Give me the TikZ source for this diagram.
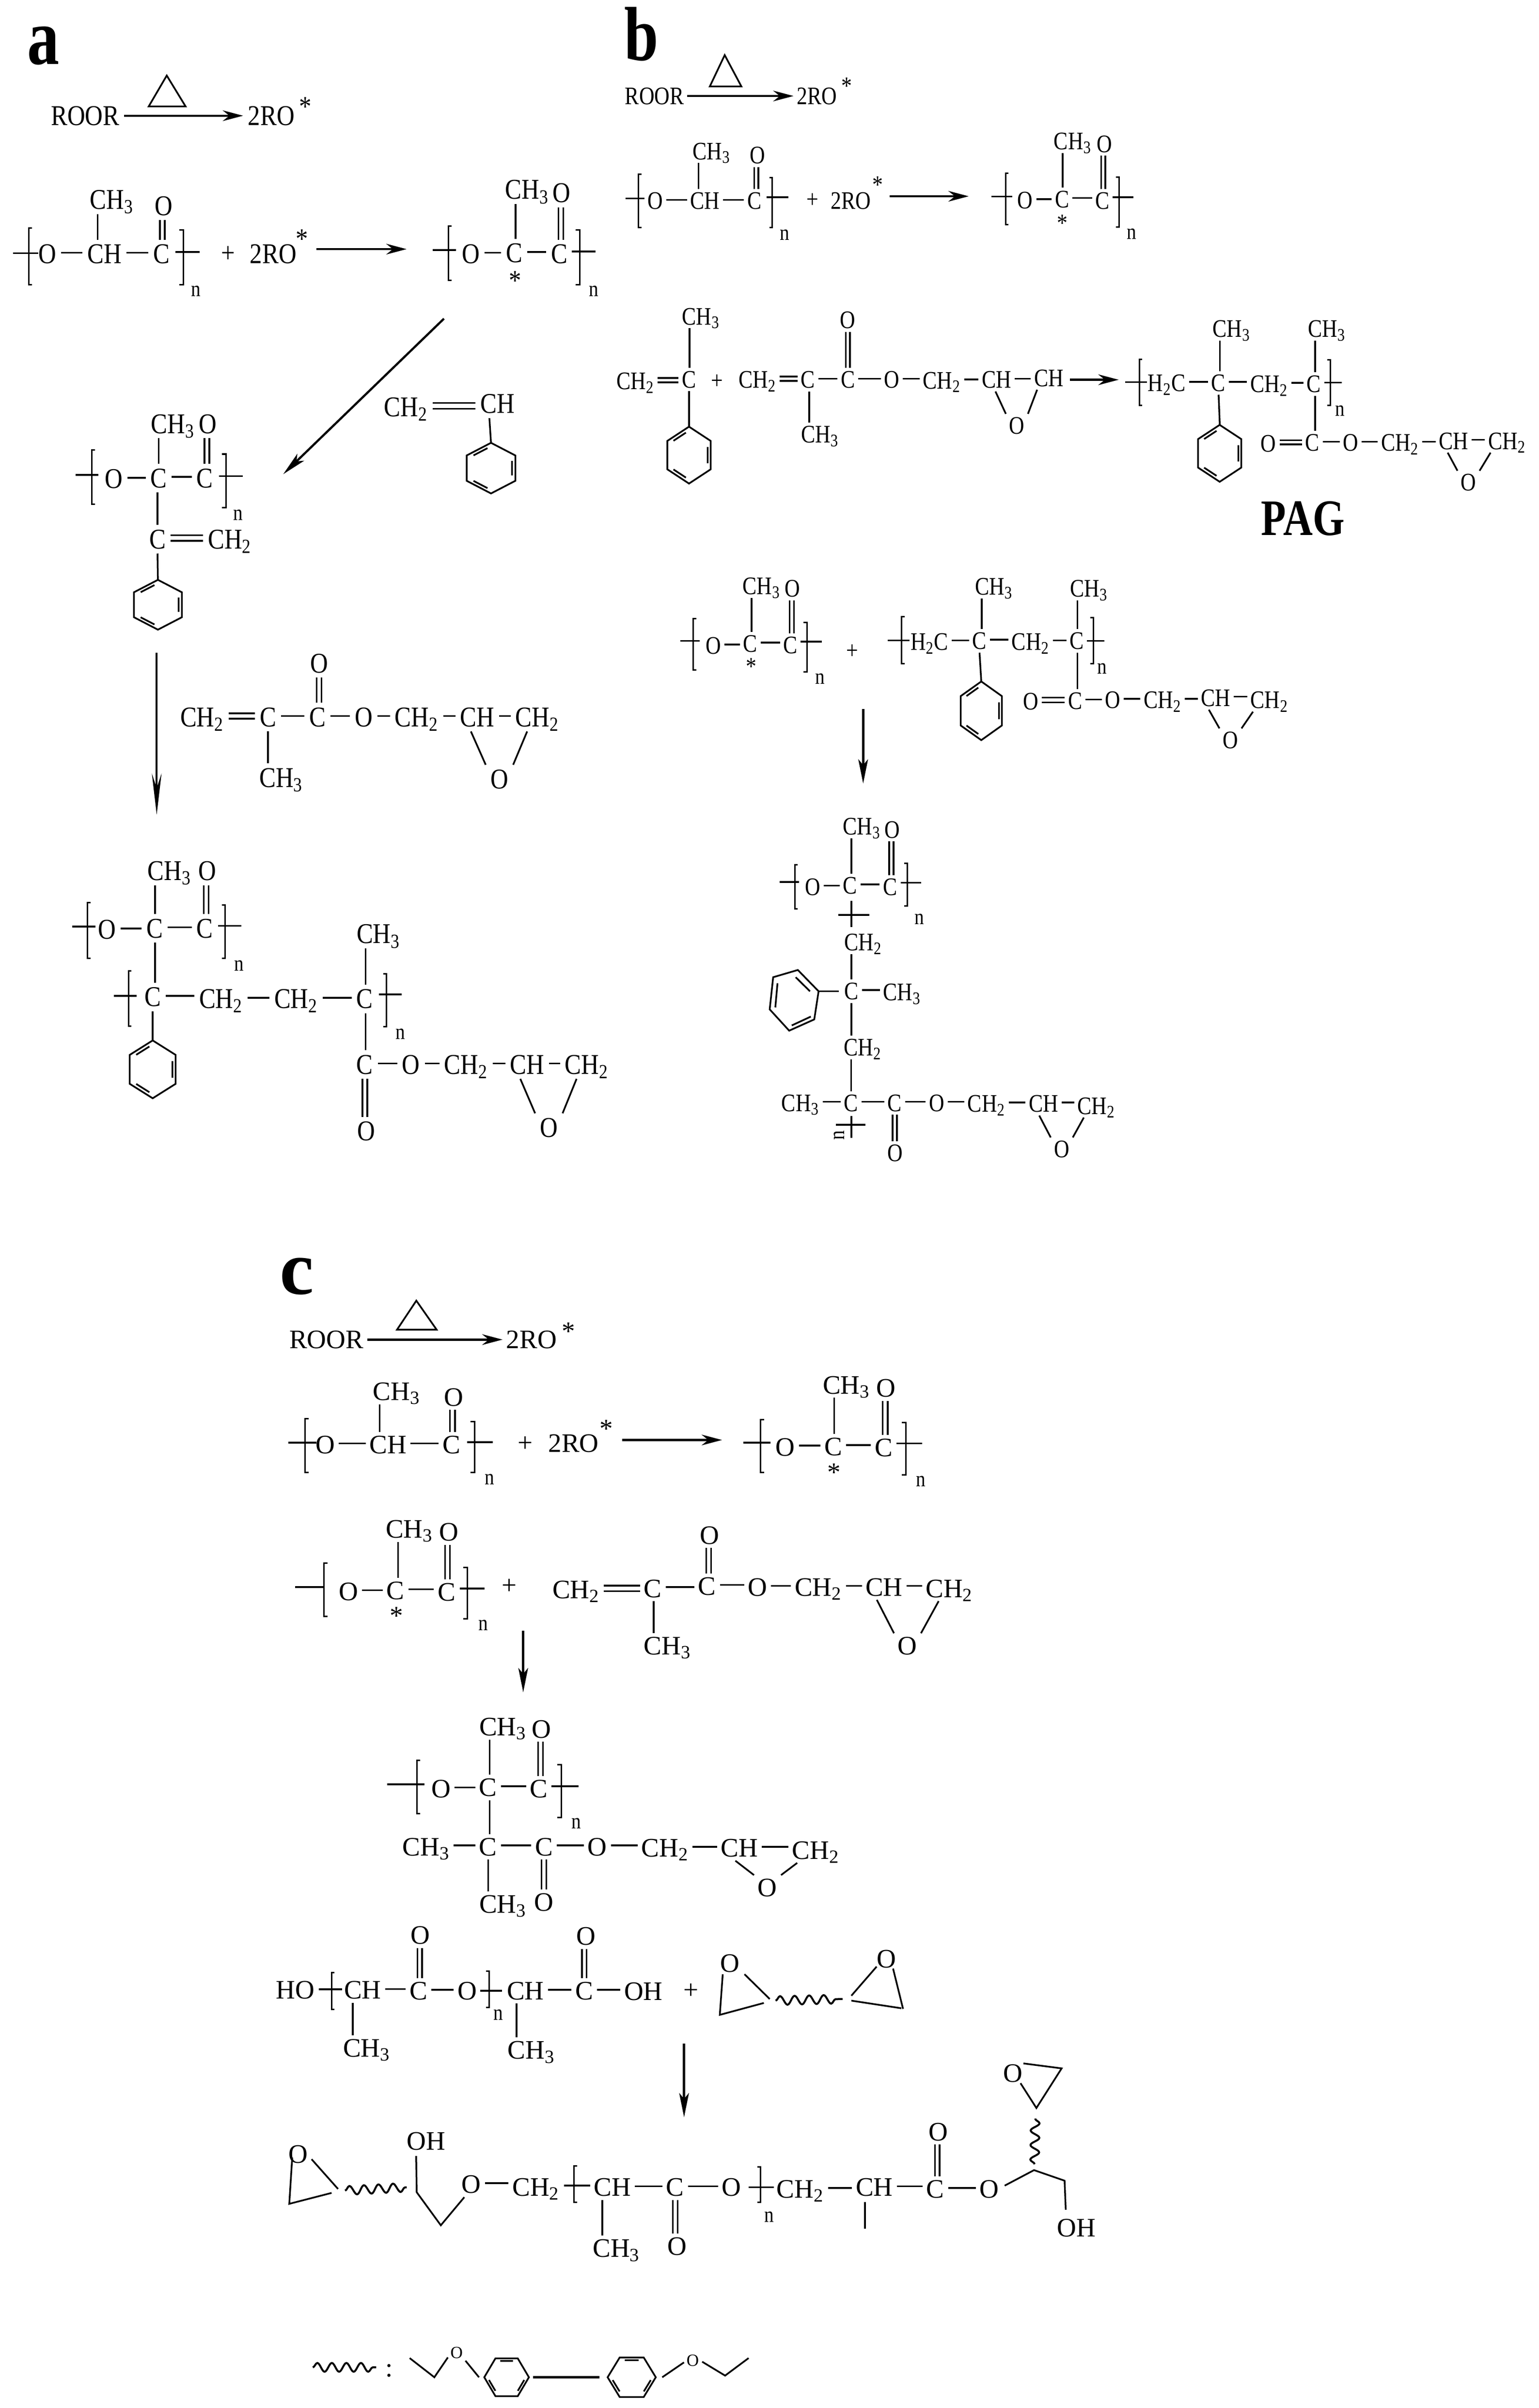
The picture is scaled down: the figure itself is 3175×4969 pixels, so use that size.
\documentclass[tikz,border=0pt]{standalone}
\usepackage{fontspec}
\setmainfont{Liberation Serif}
\newfontfamily\fA[FakeStretch=.86]{Liberation Serif}
\newfontfamily\fB[FakeStretch=.84]{Liberation Serif}
\newfontfamily\fL[FakeStretch=.8]{Liberation Serif}
\usetikzlibrary{arrows.meta,decorations.pathmorphing}
\newcommand\uu{0.01cm}
\newcommand\CHt{CH\textsubscript{3}}
\newcommand\CHd{CH\textsubscript{2}}
\newcount\nidx
\newcommand\nxt{\global\advance\nidx by 1\relax}
\newcommand\A[4]{\node[atom] (#1) at (#2,#3) {#4};}
\newcommand\N[2]{\nxt\node[nn] (n\the\nidx) at (#1,#2) {n};}
\newcommand\St[2]{\nxt\node[atom,text height=0pt,outer sep=0pt] (s\the\nidx) at (#1,#2) {\smash{\raisebox{-.47em}{*}}};}
\newcommand\Pl[2]{\nxt\node[atom] (p\the\nidx) at (#1,#2) {+};}
\newcommand\Hb[2]{\draw[bond] ([yshift=3*\uu]#1.east) -- ([yshift=3*\uu]#1.east -| #2.west);}
\newcommand\HB[1]{\foreach \p/\q in {#1} {\Hb{\p}{\q}}}
\newcommand\Vb[3][0]{\draw[bond] ([xshift=#1*\uu]#2.north) -- ([xshift=#1*\uu]#2.north |- #3.south);}
\newcommand\Dv[3][0]{\draw[bond] ([xshift=#1*\uu-\ddx*\uu]#2.north) -- ([xshift=#1*\uu-\ddx*\uu]#2.north |- #3.south) ([xshift=#1*\uu+\ddx*\uu]#2.north) -- ([xshift=#1*\uu+\ddx*\uu]#2.north |- #3.south);}
\newcommand\Dh[2]{\draw[bond] ([yshift=3*\uu-\ddy*\uu]#1.east) -- ([yshift=3*\uu-\ddy*\uu]#1.east -| #2.west) ([yshift=3*\uu+\ddy*\uu]#1.east) -- ([yshift=3*\uu+\ddy*\uu]#1.east -| #2.west);}
\newcommand\Ln[2]{\draw[bond] (#1) -- (#2);}
\newcommand\Ep[5]{\draw[bond] ([xshift=#4*\uu]#1.south) -- (#3.north west) (#3.north east) -- ([xshift=#5*\uu]#2.south);}
\newcommand\Br[4]{\draw[brk] (#1+#4,#2) -- (#1,#2) -- (#1,#3) -- (#1+#4,#3);}
\newcommand\Cr[3]{\draw[bond] (#1,#3) -- (#2,#3);}
\newcommand\Ar[5][arr]{\nxt\coordinate (as\the\nidx) at (#2,#3);\coordinate (ae\the\nidx) at (#4,#5);\draw[#1] (as\the\nidx) -- (ae\the\nidx);}
\newcommand\Ha[2]{\draw[arr] (#1.east) -- (#1.east -| #2.west);}
\newcommand\Wv[4]{\draw[wave] (#1,#2) -- (#3,#4);}
% ring: name, cx, cy, rx, ry, angle offset
\newcommand\Benz[6]{\coordinate (#1) at (#2,#3-#5);
 \draw[bond,shift={(#2,#3)},xscale=#4,yscale=-#5]
 ({90+#6}:1) -- ({150+#6}:1) -- ({210+#6}:1) -- ({270+#6}:1) -- ({330+#6}:1) -- ({30+#6}:1) -- cycle
 ({99+#6}:.8) -- ({141+#6}:.8) ({219+#6}:.8) -- ({261+#6}:.8) ({339+#6}:.8) -- ({381+#6}:.8);}
\begin{document}
\begin{tikzpicture}[x=0.01cm,y=-0.01cm,
 bond/.style={line width=.035cm,line cap=butt,line join=miter},
 brk/.style={line width=.03cm},
 arr/.style={line width=.045cm,-{Stealth[length=.42cm,width=.22cm]}},
 arrl/.style={line width=.04cm,-{Stealth[length=.85cm,width=.2cm,inset=.3cm]}},
 arrm/.style={line width=.045cm,-{Stealth[length=.5cm,width=.2cm,inset=.12cm]}},
 wave/.style={line width=.04cm,decorate,decoration={snake,amplitude=.09cm,segment length=.3cm}},
 atomA/.style={inner sep=0pt,outer sep=.1cm,text height=.39cm,text depth=0pt,font=\fA\fontsize{16.8}{18}\selectfont},
 atomB/.style={inner sep=0pt,outer sep=.07cm,text height=.345cm,text depth=0pt,font=\fB\fontsize{14.8}{16}\selectfont},
 atomC/.style={inner sep=0pt,outer sep=.08cm,text height=.365cm,text depth=0pt,font=\fontsize{15.65}{17}\selectfont},
 nn/.style={inner sep=0pt,font=\fA\fontsize{13}{14}\selectfont},
 lab/.style={inner sep=0pt,anchor=base}]
\fill[white] (0,0) rectangle (3175,4969);
\useasboundingbox (0,0) rectangle (3175,4969);
%% ---------- panel a, upper
\begin{scope}[shift={(0,0)},xscale=.8292,yscale=.8292,atom/.style=atomA]
\def\ddx{6}\def\ddy{7}
\node[lab,font=\fL\bfseries\fontsize{47}{50}\selectfont] (la) at (108,160) {a};
\A{a0r}{212}{288}{ROOR}\A{a0p}{675}{288}{2RO}\St{760}{255}
\Ha{a0r}{a0p}
\draw[bond] (415,188) -- (370,265) -- (462,265) -- cycle;
\A{a1o}{118}{632}{O}\A{a1c}{260}{632}{CH}\A{a1d}{402}{632}{C}\A{a1m}{278}{497}{\CHt}\A{a1q}{407}{512}{O}
\HB{a1o/a1c,a1c/a1d}\Vb[-17]{a1c}{a1m}\Dv[2]{a1d}{a1q}
\Br{72}{568}{708}{8}\Br{456}{572}{708}{-10}\Cr{33}{95}{630}\Cr{437}{497}{627}\N{488}{725}
\Pl{568}{630}\A{a1p}{680}{632}{2RO}\St{752}{585}
\Ar{787}{620}{1012}{620}
\A{a2o}{1172}{632}{O}\A{a2c}{1280}{630}{C}\A{a2d}{1392}{632}{C}\A{a2m}{1312}{472}{\CHt}\A{a2q}{1398}{480}{O}
\HB{a2o/a2c,a2c/a2d}\Vb[3]{a2c}{a2m}\Dv[4]{a2d}{a2q}\St{1282}{688}
\Br{1116}{562}{698}{8}\Br{1443}{572}{708}{-10}\Cr{1077}{1135}{622}\Cr{1423}{1482}{626}\N{1478}{725}
\Ar[arrm]{1105}{793}{705}{1180}
\A{asa}{1010}{1013}{\CHd}\A{asb}{1238}{1005}{CH}\Dh{asa}{asb}
\Benz{asr}{1222}{1165}{70}{63}{0}\draw[bond] (asb.south) ++(-20,0) -- (asr);
\A{a3o}{283}{1192}{O}\A{a3c}{395}{1190}{C}\A{a3d}{510}{1190}{C}\A{a3m}{430}{1055}{\CHt}\A{a3q}{517}{1055}{O}
\HB{a3o/a3c,a3c/a3d}\Vb{a3c}{a3m}\Dv[5]{a3d}{a3q}
\Br{228}{1120}{1255}{8}\Br{562}{1130}{1263}{-10}\Cr{188}{245}{1182}\Cr{545}{604}{1185}\N{593}{1282}
\A{a3e}{392}{1342}{C}\A{a3f}{572}{1342}{\CHd}\Dh{a3e}{a3f}\Vb{a3e}{a3c}
\Benz{a3r}{393}{1505}{69}{62}{0}\Ln{a3e.south}{a3r}
\end{scope}
%% ---------- panel a, lower
\begin{scope}[shift={(0,1300)},xscale=.8292,yscale=.7651,atom/.style=atomA]
\def\ddx{6}\def\ddy{7}
\Ar[arrl]{390}{62}{390}{498}
\A{g1}{503}{235}{\CHd}\A{g2}{667}{235}{C}\A{g3}{790}{235}{C}\A{g4}{905}{235}{O}\A{g5}{1037}{235}{\CHd}\A{g6}{1188}{235}{CH}\A{g7}{1337}{235}{\CHd}
\A{g8}{795}{90}{O}\A{g9}{700}{398}{\CHt}\A{g0}{1243}{402}{O}
\Dh{g1}{g2}\HB{g2/g3,g3/g4,g4/g5,g5/g6,g6/g7}
\Dv[4]{g3}{g8}\draw[bond] (g2.south) -- (g2.south |- g9.north);
\Ep{g6}{g7}{g0}{-16}{-25}
\A{b1}{266}{808}{O}\A{b2}{385}{805}{C}\A{b3}{510}{805}{C}\A{b4}{422}{650}{\CHt}\A{b5}{516}{650}{O}
\HB{b1/b2,b2/b3}\Vb[1]{b2}{b4}\Dv[3]{b3}{b5}
\Br{218}{735}{885}{8}\Br{560}{742}{885}{-8}\Cr{180}{238}{800}\Cr{543}{600}{798}\N{595}{905}
\A{c1}{380}{990}{C}\A{c2}{550}{995}{\CHd}\A{c3}{737}{995}{\CHd}\A{c4}{908}{995}{C}\A{c5}{942}{820}{\CHt}
\HB{c1/c2,c2/c3,c3/c4}\Vb[2]{c4}{c5}\Vb[6]{c1}{b2}
\Br{320}{920}{1068}{7}\Br{962}{927}{1070}{-8}\Cr{283}{340}{987}\Cr{943}{1000}{983}\N{997}{1090}
\Benz{c6}{380}{1185}{66}{78}{0}\Ln{c1.south}{c6}
\A{d1}{908}{1172}{C}\A{d2}{1023}{1172}{O}\A{d3}{1160}{1172}{\CHd}\A{d4}{1312}{1172}{CH}\A{d5}{1460}{1172}{\CHd}\A{d6}{912}{1352}{O}\A{d7}{1366}{1342}{O}
\HB{d1/d2,d2/d3,d3/d4,d4/d5}\Vb[2]{d1}{c4}
\draw[bond] ([xshift=-\ddx*\uu]d1.south) -- ([xshift=-\ddx*\uu]d1.south |- d6.north) ([xshift=\ddx*\uu]d1.south) -- ([xshift=\ddx*\uu]d1.south |- d6.north);
\Ep{d4}{d5}{d7}{-17}{-25}
\end{scope}
%% ---------- panel b, upper
\begin{scope}[shift={(1250,0)},xscale=1.2277,yscale=.7337,atom/.style=atomB]
\def\ddx{3.5}\def\ddy{6}
\node[lab,font=\fL\bfseries\fontsize{45}{48}\selectfont] (lb) at (60,170) {b};
\A{e0r}{82}{270}{ROOR}\A{e0p}{355}{270}{2RO}\St{405}{232}\Ha{e0r}{e0p}
\draw[bond] (200,155) -- (175,243) -- (228,243) -- cycle;
\A{e1o}{83}{565}{O}\A{e1c}{167}{565}{CH}\A{e1d}{250}{565}{C}\A{e1m}{178}{425}{\CHt}\A{e1q}{255}{437}{O}
\HB{e1o/e1c,e1c/e1d}\Vb[-11]{e1c}{e1m}\Dv[3]{e1d}{e1q}
\Br{55}{490}{640}{5}\Br{280}{500}{640}{-5}\Cr{33}{65}{558}\Cr{270}{307}{555}\N{301}{660}
\Pl{348}{560}\A{e1p}{412}{565}{2RO}\St{457}{510}\Ar{477}{552}{610}{552}
\A{e2o}{705}{563}{O}\A{e2c}{767}{560}{C}\A{e2d}{835}{565}{C}\A{e2m}{785}{397}{\CHt}\A{e2q}{838}{405}{O}
\HB{e2o/e2c,e2c/e2d}\Vb[1]{e2c}{e2m}\Dv[1]{e2d}{e2q}\St{768}{617}
\Br{672}{487}{632}{5}\Br{863}{498}{638}{-5}\Cr{648}{683}{553}\Cr{852}{887}{555}\N{884}{658}
%% monomers
\A{f1}{50}{1072}{\CHd}\A{f2}{140}{1067}{C}\A{f3}{160}{890}{\CHt}\Dh{f1}{f2}\Vb[1]{f2}{f3}
\Benz{f4}{140}{1280}{42}{80}{0}\Ln{f2.south}{f4}\Pl{187}{1070}
\A{f5}{255}{1068}{\CHd}\A{f6}{340}{1068}{C}\A{f7}{407}{1068}{C}\A{f8}{481}{1068}{O}\A{f9}{565}{1070}{\CHd}\A{f10}{657}{1068}{CH}\A{f11}{745}{1063}{CH}
\A{f12}{407}{900}{O}\A{f13}{360}{1222}{\CHt}\A{f14}{691}{1197}{O}
\Dh{f5}{f6}\HB{f6/f7,f7/f8,f8/f9,f9/f10,f10/f11}\Dv{f7}{f12}
\draw[bond] ([xshift=2*\uu]f6.south) -- ([xshift=2*\uu]f6.south |- f13.north);
\Ep{f10}{f11}{f14}{-2}{-20}
\Ar{780}{1068}{862}{1068}
\A{h1}{943}{1077}{H\textsubscript{2}C}\A{h2}{1030}{1077}{C}\A{h3}{1115}{1080}{\CHd}\A{h4}{1190}{1080}{C}\A{h5}{1052}{925}{\CHt}\A{h6}{1212}{925}{\CHt}
\HB{h1/h2,h2/h3,h3/h4}\Vb[2]{h2}{h5}\Vb[2]{h4}{h6}
\Br{897}{1010}{1140}{5}\Br{1218}{1012}{1140}{-5}\Cr{873}{910}{1075}\Cr{1208}{1237}{1076}\N{1234}{1155}
\Benz{h7}{1032}{1275}{42}{80}{0}\Ln{h2.south}{h7}
\A{h8}{1188}{1245}{C}\A{h9}{1114}{1247}{O}\A{h10}{1252}{1245}{O}\A{h11}{1335}{1245}{\CHd}\A{h12}{1425}{1240}{CH}\A{h13}{1515}{1240}{\CHd}\A{h14}{1450}{1357}{O}
\Vb[4]{h8}{h4}\Dh{h9}{h8}\HB{h8/h10,h10/h11,h11/h12,h12/h13}\Ep{h12}{h13}{h14}{-10}{-28}
\node[lab,font=\fL\bfseries\fontsize{30}{32}\selectfont] (pag) at (1172,1505) {PAG};
\end{scope}
%% ---------- panel b, lower
\begin{scope}[shift={(1350,1150)},xscale=.8929,yscale=.8292,atom/.style=atomB]
\def\ddx{5}\def\ddy{6}
\A{i1}{137}{220}{O}\A{i2}{222}{215}{C}\A{i3}{315}{218}{C}\A{i4}{248}{72}{\CHt}\A{i5}{320}{78}{O}
\HB{i1/i2,i2/i3}\Vb[3]{i2}{i4}\Dv[3]{i3}{i5}\St{225}{263}
\Br{90}{152}{280}{7}\Br{353}{162}{285}{-8}\Cr{60}{105}{208}\Cr{338}{388}{210}\N{383}{302}\Pl{458}{232}
\A{j1}{636}{210}{H\textsubscript{2}C}\A{j2}{752}{208}{C}\A{j3}{870}{210}{\CHd}\A{j4}{977}{208}{C}\A{j5}{785}{73}{\CHt}\A{j6}{1005}{78}{\CHt}
\HB{j1/j2,j2/j3,j3/j4}\Vb[5]{j2}{j5}\Vb[1]{j4}{j6}
\Br{572}{148}{265}{7}\Br{1015}{150}{265}{-7}\Cr{540}{590}{207}\Cr{1000}{1040}{208}\N{1035}{277}
\Benz{j7}{756}{382}{55}{73}{0}\Ln{j2.south}{j7}
\A{j8}{973}{357}{C}\A{j9}{870}{358}{O}\A{j10}{1060}{355}{O}\A{j11}{1175}{355}{\CHd}\A{j12}{1298}{350}{CH}\A{j13}{1422}{355}{\CHd}\A{j14}{1332}{455}{O}
\Vb[5]{j8}{j4}\Dh{j9}{j8}\HB{j8/j10,j10/j11,j11/j12,j12/j13}\Ep{j12}{j13}{j14}{-16}{-38}
\Ar[arrm]{483}{378}{483}{563}
\A{k1}{367}{820}{O}\A{k2}{453}{817}{C}\A{k3}{545}{820}{C}\A{k4}{480}{670}{\CHt}\A{k5}{550}{678}{O}
\HB{k1/k2,k2/k3}\Vb[3]{k2}{k4}\Dv[3]{k3}{k5}
\Br{325}{765}{875}{6}\Br{585}{762}{868}{-7}\Cr{290}{335}{808}\Cr{570}{617}{810}\N{613}{900}
\A{k6}{483}{958}{\CHd}\A{k7}{456}{1080}{C}\A{k8}{573}{1082}{\CHt}\A{k9}{482}{1220}{\CHd}
\Vb{k7}{k6}\Hb{k7}{k8}
\draw[bond] (456,855) -- (456,920) (425,890) -- (497,890);
\coordinate (k10) at (380,1080);
\draw[bond] (k10) -- (332,1027) -- (275,1045) -- (267,1125) -- (312,1178) -- (370,1150) -- cycle (327,1045) -- (360,1080) (285,1060) -- (280,1120) (318,1165) -- (362,1143);
\draw[bond] (k7.west) ++(-5,0) -- (k10);
\draw[bond] (k7.south) -- (k7.south |- k9.north);
\A{l1}{338}{1358}{\CHt}\A{l2}{455}{1358}{C}\A{l3}{556}{1358}{C}\A{l4}{653}{1358}{O}\A{l5}{768}{1360}{\CHd}\A{l6}{900}{1360}{CH}\A{l7}{1022}{1365}{\CHd}\A{l8}{942}{1473}{O}\A{l9}{557}{1483}{O}
\HB{l1/l2,l2/l3,l3/l4,l4/l5,l5/l6,l6/l7}\Vb{l2}{k9}\Ep{l6}{l7}{l8}{-10}{-29}
\draw[bond] ([xshift=-\ddx*\uu]l3.south) -- ([xshift=-\ddx*\uu]l3.south |- l9.north) ([xshift=\ddx*\uu]l3.south) -- ([xshift=\ddx*\uu]l3.south |- l9.north);
\draw[bond] (456,1390) -- (456,1445) (420,1412) -- (488,1412);
\nxt\node[nn,rotate=90] (n\the\nidx) at (428,1438) {n};
\end{scope}
%% ---------- panel c, upper
\begin{scope}[shift={(500,2550)},xscale=1.0204,yscale=.8929,atom/.style=atomC]
\def\ddx{5}\def\ddy{6.5}
\node[lab,font=\bfseries\fontsize{45}{48}\selectfont] (lc) at (110,135) {c};
\A{m0r}{170}{240}{ROOR}\A{m0p}{585}{240}{2RO}\St{660}{212}\Ha{m0r}{m0p}
\draw[bond] (352,150) -- (313,217) -- (393,217) -- cycle;
\A{m1o}{168}{483}{O}\A{m1c}{295}{483}{CH}\A{m1d}{423}{483}{C}\A{m1m}{312}{360}{\CHt}\A{m1q}{428}{373}{O}
\HB{m1o/m1c,m1c/m1d}\Vb[-17]{m1c}{m1m}\Dv[2]{m1d}{m1q}
\Br{127}{423}{547}{7}\Br{470}{430}{547}{-8}\Cr{93}{150}{478}\Cr{455}{507}{477}\N{500}{563}
\Pl{572}{478}\A{m1p}{670}{480}{2RO}\St{736}{437}\Ar{768}{472}{970}{472}
\A{m2o}{1098}{488}{O}\A{m2c}{1195}{487}{C}\A{m2d}{1297}{490}{C}\A{m2m}{1222}{345}{\CHt}\A{m2q}{1302}{352}{O}
\HB{m2o/m2c,m2c/m2d}\Vb[2]{m2c}{m2m}\Dv[3]{m2d}{m2q}\St{1197}{538}
\Br{1048}{425}{547}{7}\Br{1342}{432}{553}{-8}\Cr{1013}{1068}{478}\Cr{1323}{1375}{480}\N{1372}{567}
\A{o1}{215}{822}{O}\A{o2}{310}{820}{C}\A{o3}{413}{823}{C}\A{o4}{338}{678}{\CHt}\A{o5}{418}{685}{O}
\HB{o1/o2,o2/o3}\Vb[5]{o2}{o4}\Dv[2]{o3}{o5}\St{312}{870}
\Br{165}{757}{880}{7}\Br{455}{767}{885}{-8}\Cr{107}{165}{812}\Cr{440}{490}{815}\N{487}{900}\Pl{540}{808}
\A{q1}{675}{818}{\CHd}\A{q2}{830}{815}{C}\A{q3}{940}{810}{C}\A{q4}{1042}{812}{O}\A{q5}{1165}{812}{\CHd}\A{q6}{1298}{812}{CH}\A{q7}{1430}{815}{\CHd}\A{q8}{945}{692}{O}\A{q9}{860}{948}{\CHt}\A{q0}{1345}{948}{O}
\Dh{q1}{q2}\HB{q2/q3,q3/q4,q4/q5,q5/q6,q6/q7}\Dv[3]{q3}{q8}
\draw[bond] ([xshift=2*\uu]q2.south) -- ([xshift=2*\uu]q2.south |- q9.north);
\Ep{q6}{q7}{q0}{-15}{-22}
\Ar[arrm]{568}{913}{568}{1055}
\A{r1}{402}{1278}{O}\A{r2}{497}{1275}{C}\A{r3}{600}{1278}{C}\A{r4}{527}{1135}{\CHt}\A{r5}{605}{1140}{O}
\HB{r1/r2,r2/r3}\Vb[3]{r2}{r4}\Dv[3]{r3}{r5}
\Br{353}{1212}{1335}{7}\Br{645}{1222}{1345}{-8}\Cr{293}{368}{1268}\Cr{625}{680}{1272}\N{676}{1358}
\A{t1}{372}{1412}{\CHt}\A{t2}{497}{1412}{C}\A{t3}{610}{1412}{C}\A{t4}{718}{1412}{O}\A{t5}{855}{1415}{\CHd}\A{t6}{1005}{1415}{CH}\A{t7}{1160}{1420}{\CHd}\A{t8}{1062}{1507}{O}\A{t9}{610}{1540}{O}\A{t0}{527}{1545}{\CHt}
\HB{t1/t2,t2/t3,t3/t4,t4/t5,t5/t6,t6/t7}\Vb[3]{t2}{r2}\Ep{t6}{t7}{t8}{-8}{-38}
\draw[bond] ([xshift=-\ddx*\uu]t3.south) -- ([xshift=-\ddx*\uu]t3.south |- t9.north) ([xshift=\ddx*\uu]t3.south) -- ([xshift=\ddx*\uu]t3.south |- t9.north);
\draw[bond] (t2.south) -- (t2.south |- t0.north);
\end{scope}
%% ---------- panel c, lower
\begin{scope}[shift={(500,3900)},xscale=1.2121,yscale=.6817,atom/.style=atomC]
\def\ddx{4}\def\ddy{6}
\A{u1}{90}{303}{HO}\A{u2}{205}{303}{CH}\A{u3}{300}{305}{C}\A{u4}{383}{305}{O}\A{u5}{482}{305}{CH}\A{u6}{582}{305}{C}\A{u7}{683}{307}{OH}
\A{u8}{303}{137}{O}\A{u9}{585}{140}{O}\A{u10}{212}{478}{\CHt}\A{u11}{492}{485}{\CHt}
\HB{u2/u3,u3/u4,u5/u6,u6/u7}\Dv[2]{u3}{u8}\Dv{u6}{u9}
\draw[bond] ([xshift=-17*\uu]u2.south) -- ([xshift=-17*\uu]u2.south |- u10.north);
\draw[bond] ([xshift=-15*\uu]u5.south) -- ([xshift=-15*\uu]u5.south |- u11.north);
\Br{152}{250}{362}{5}\Br{420}{245}{355}{-5}\Cr{130}{170}{301}\Cr{405}{442}{305}\N{436}{378}\Pl{764}{303}
\A{v1}{830}{222}{O}\A{v2}{1097}{208}{O}
\draw[bond] (855,255) -- (898,330) (818,255) -- (813,378) -- (888,342);
\Wv{908}{335}{1022}{330}
\draw[bond] (1080,232) -- (1037,320) (1037,335) -- (1122,358) (1108,238) -- (1125,360);
\Ar[arrm]{752}{465}{752}{688}
\A{w1}{95}{800}{O}\A{w2}{313}{760}{OH}\A{w3}{390}{890}{O}\A{w4}{500}{900}{\CHd}\A{w5}{630}{900}{CH}\A{w6}{737}{900}{C}\A{w7}{833}{900}{O}\A{w8}{950}{905}{\CHd}\A{w9}{1076}{900}{CH}\A{w10}{1180}{905}{C}\A{w11}{1272}{905}{O}
\A{w12}{637}{1085}{\CHt}\A{w13}{740}{1078}{O}\A{w14}{1185}{732}{O}\A{w15}{1420}{1022}{OH}\A{w16}{1312}{555}{O}
\draw[bond] (118,815) -- (163,905) (85,810) -- (80,950) -- (152,917);
\Wv{175}{910}{280}{900}
\draw[bond] (296,805) -- (297,915) -- (338,1015) -- (378,930);
\Hb{w3}{w4}\HB{w5/w6,w6/w7,w8/w9,w9/w10,w10/w11}
\Br{565}{835}{945}{5}\Br{882}{838}{945}{-5}\Cr{548}{592}{895}\Cr{862}{905}{900}\N{897}{990}
\draw[bond] ([xshift=-17*\uu]w5.south) -- ([xshift=-17*\uu]w5.south |- w12.north);
\draw[bond] ([xshift=-\ddx*\uu]w6.south) -- ([xshift=-\ddx*\uu]w6.south |- w13.north) ([xshift=\ddx*\uu]w6.south) -- ([xshift=\ddx*\uu]w6.south |- w13.north);
\draw[bond] (1060,945) -- (1060,1025);
\Dv[3]{w10}{w14}
\draw[bond] (1298,895) -- (1348,848) -- (1400,880) -- (1402,968);
\Wv{1349}{830}{1350}{692}
\draw[bond] (1330,525) -- (1395,540) -- (1352,660) -- (1325,585);
\Wv{120}{1445}{228}{1445}
\nxt\node[atom] (c\the\nidx) at (250,1447) {:};
\node[atom,outer sep=0pt,text height=.22cm,font=\fontsize{10}{11}\selectfont] (x1) at (365,1402) {O};
\node[atom,outer sep=0pt,text height=.22cm,font=\fontsize{10}{11}\selectfont] (x2) at (767,1425) {O};
\draw[bond] (285,1417) -- (327,1475) -- (350,1415) (380,1425) -- (403,1475);
\Benz{x3}{450}{1475}{38}{66}{-30}
\coordinate (x4) at (495,1475);\coordinate (x5) at (608,1475);\draw[bond,line width=.045cm] (x4) -- (x5);
\Benz{x6}{663}{1475}{41}{69}{-30}
\draw[bond] (715,1475) -- (752,1430) (783,1428) -- (822,1470) -- (862,1417);
\end{scope}
\end{tikzpicture}
\end{document}
